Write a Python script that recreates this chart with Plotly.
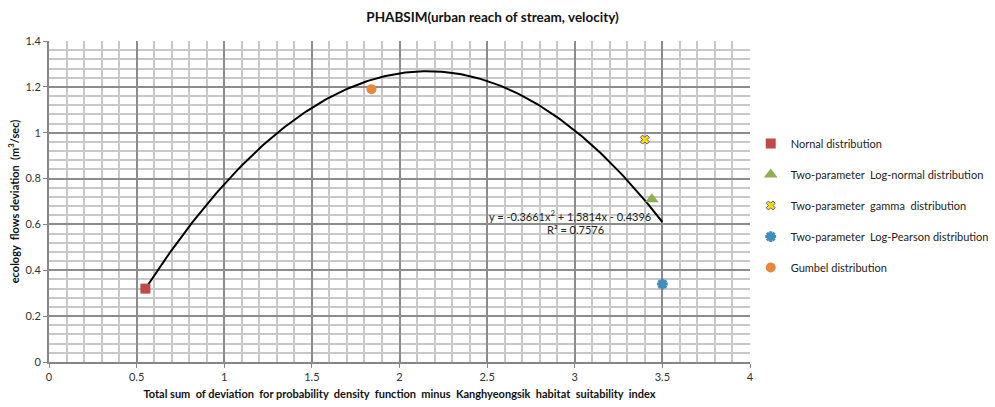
import numpy as np
import plotly.graph_objects as go

# Data
series_names = [
    "Nornal distribution",
    "Two-parameter  Log-normal distribution",
    "Two-parameter  gamma  distribution",
    "Two-parameter  Log-Pearson distribution",
    "Gumbel distribution",
]
x_vals = [0.55, 3.44, 3.40, 3.50, 1.84]
y_vals = [0.32, 0.71, 0.97, 0.34, 1.19]
symbols = ["square", "triangle-up", "x", "asterisk", "circle"]
colors = ["#BE4B48", "#8EB052", "#F2E500", "#3D8EBF", "#E8883A"]

# Trendline coefficients (as displayed)
coef_a, coef_b, coef_c = -0.3661, 1.5814, -0.4396
r_squared = 0.7576
trend_x_range = [0.55, 3.50]

FONT = "Lato"

fig = go.Figure()

tx = np.linspace(trend_x_range[0], trend_x_range[1], 200)
ty = coef_a * tx**2 + coef_b * tx + coef_c
fig.add_trace(go.Scatter(x=tx, y=ty, mode="lines", line=dict(color="black", width=2),
                         showlegend=False, hoverinfo="skip"))

for i, (name, xv, yv, sym, col) in enumerate(zip(series_names, x_vals, y_vals, symbols, colors)):
    if sym == "x":
        marker = dict(symbol="x", size=8, color=col, line=dict(color="#7A4FA0", width=1))
    elif sym == "asterisk":
        marker = dict(symbol="asterisk", size=9, color=col, line=dict(color=col, width=3))
    elif sym == "triangle-up":
        marker = dict(symbol=sym, size=12, color=col, line=dict(width=0))
    else:
        marker = dict(symbol=sym, size=10, color=col, line=dict(width=0))
    fig.add_trace(go.Scatter(x=[xv], y=[yv], mode="markers", name=name, marker=marker,
                             legendgroup=f"g{i}"))

fig.add_annotation(x=2.973, y=0.641, xref="x", yref="y",
                   text=f"y = {coef_a}x<sup>2</sup> + {coef_b}x - {abs(coef_c)}",
                   showarrow=False, font=dict(family=FONT, size=11, color="#222"))
fig.add_annotation(x=3.007, y=0.58, xref="x", yref="y",
                   text=f"R² = {r_squared}",
                   showarrow=False, font=dict(family=FONT, size=11, color="#222"))

axis_common = dict(
    showline=True, linecolor="#868686", linewidth=2, mirror=False,
    ticks="outside", ticklen=4, tickcolor="#868686",
    showgrid=True, gridcolor="#8C8C8C", gridwidth=2,
    zeroline=False, automargin=False,
    tickfont=dict(family=FONT, size=11, color="#333"),
)

fig.update_layout(
    width=995, height=407,
    margin=dict(l=49, r=245, t=41, b=45),
    paper_bgcolor="white", plot_bgcolor="white",
    title=dict(text="<b>PHABSIM(urban reach of stream, velocity)</b>", x=0.495, xanchor="center",
               y=0.958, yanchor="middle", font=dict(family=FONT, size=13.5, color="#111")),
    xaxis=dict(range=[0, 4], dtick=0.5, **axis_common,
               minor=dict(dtick=0.1, showgrid=True, gridcolor="#C8C8C8", gridwidth=2),
               title=dict(text="<b>Total sum  of deviation  for probability  density  function  minus  Kanghyeongsik  habitat  suitability  index</b>",
                          font=dict(family=FONT, size=11, color="#111"), standoff=8)),
    yaxis=dict(range=[0, 1.4], dtick=0.2, **axis_common,
               minor=dict(dtick=0.04, showgrid=True, gridcolor="#C8C8C8", gridwidth=2),
               title=dict(text="<b>ecology  flows deviation  (m<sup>3</sup>/sec)</b>",
                          font=dict(family=FONT, size=11, color="#111"), standoff=4)),
    legend=dict(xref="container", yref="container", x=0.7545, xanchor="left", y=0.495, yanchor="middle",
                font=dict(family=FONT, size=11, color="#222"),
                tracegroupgap=12, itemwidth=30, bgcolor="rgba(0,0,0,0)"),
    showlegend=True,
)

fig.write_html("out.html")
